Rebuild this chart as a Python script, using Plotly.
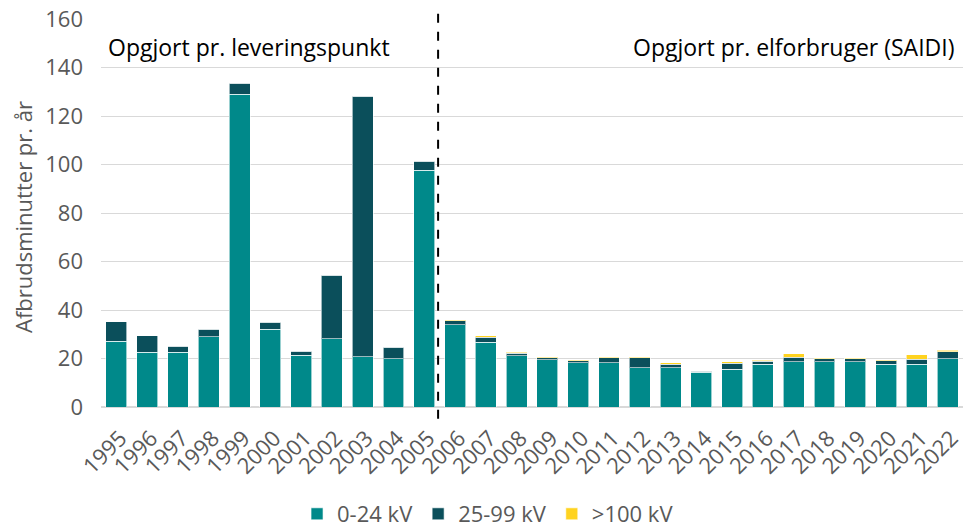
import plotly.graph_objects as go

years = [str(y) for y in range(1995, 2023)]
kv_0_24 = [27.2, 22.5, 22.5, 29.0, 129.0, 32.0, 21.3, 28.2, 20.7, 19.8, 97.6,
           34.0, 26.7, 21.2, 19.5, 18.3, 18.3, 16.1, 16.1, 14.3, 15.5, 17.7,
           18.7, 18.7, 18.7, 17.7, 17.7, 19.8]
kv_25_99 = [7.9, 6.8, 2.5, 3.0, 4.6, 3.0, 1.7, 26.2, 107.5, 4.8, 3.8,
            1.6, 2.0, 1.0, 0.9, 0.8, 2.0, 4.2, 1.6, 0.4, 2.6, 1.1,
            1.8, 1.1, 1.1, 1.4, 2.0, 3.0]
kv_100 = [0, 0, 0, 0, 0, 0, 0, 0, 0, 0, 0,
          0.1, 0.6, 0.4, 0.4, 0.3, 0.3, 0.4, 0.5, 0.3, 0.6, 0.4,
          1.5, 0.5, 0.5, 0.4, 1.9, 0.7]
series_names = ["0-24 kV", "25-99 kV", ">100 kV"]
colors = ["#00898A", "#0B4F5B", "#FFD320"]
y_ticks = [0, 20, 40, 60, 80, 100, 120, 140, 160]

FONT = "Open Sans"
GREY = "#595959"
fig = go.Figure()
for name, vals, col in zip(series_names, [kv_0_24, kv_25_99, kv_100], colors):
    fig.add_trace(go.Bar(x=years, y=vals, name=name, marker_color=col,
                         marker_line=dict(color="rgba(255,255,255,0.6)", width=1)))

fig.add_shape(type="line", xref="x", yref="paper", x0=10.45, x1=10.45,
              y0=-0.03, y1=1.025, line=dict(color="black", width=2, dash="dash"))

fig.add_annotation(text="Opgjort pr. leveringspunkt", xref="paper", yref="y",
                   x=0.006, y=148.5, xanchor="left", yanchor="middle", showarrow=False,
                   font=dict(family=FONT, size=23, color="black"))
fig.add_annotation(text="Opgjort pr. elforbruger (SAIDI)", xref="paper", yref="y",
                   x=0.992, y=148.5, xanchor="right", yanchor="middle", showarrow=False,
                   font=dict(family=FONT, size=23, color="black"))
fig.add_annotation(text="Afbrudsminutter pr. år", xref="paper", yref="paper",
                   x=(23 - 101) / 862, y=(407 - 217) / 388, xanchor="center", yanchor="middle",
                   textangle=-90, showarrow=False,
                   font=dict(family=FONT, size=22, color=GREY))

fig.update_layout(
    barmode="stack", bargap=0.32,
    width=964, height=531,
    margin=dict(l=101, r=1, t=19, b=124),
    plot_bgcolor="white", paper_bgcolor="white",
    font=dict(family=FONT, color=GREY, size=22),
    showlegend=True,
    legend=dict(orientation="h", x=0.449, xanchor="center",
                yref="container", y=(531 - 514) / 531, yanchor="middle",
                font=dict(size=22, color=GREY), traceorder="normal",
                bgcolor="rgba(0,0,0,0)", borderwidth=0),
    yaxis=dict(range=[0, 160], tickvals=y_ticks, showgrid=True, gridcolor="#D9D9D9",
               gridwidth=1, zeroline=True, zerolinecolor="#D9D9D9", automargin=False,
               tickfont=dict(size=22, color=GREY), ticks="", ticklabelstandoff=17),
    xaxis=dict(tickangle=-45, tickfont=dict(size=22, color=GREY), showline=False,
               ticks="", automargin=False, ticklabelstandoff=13, ticklabelshift=4),
)

fig.write_html("out.html", config={"displayModeBar": False},
               post_script="document.body.style.margin='0';")
